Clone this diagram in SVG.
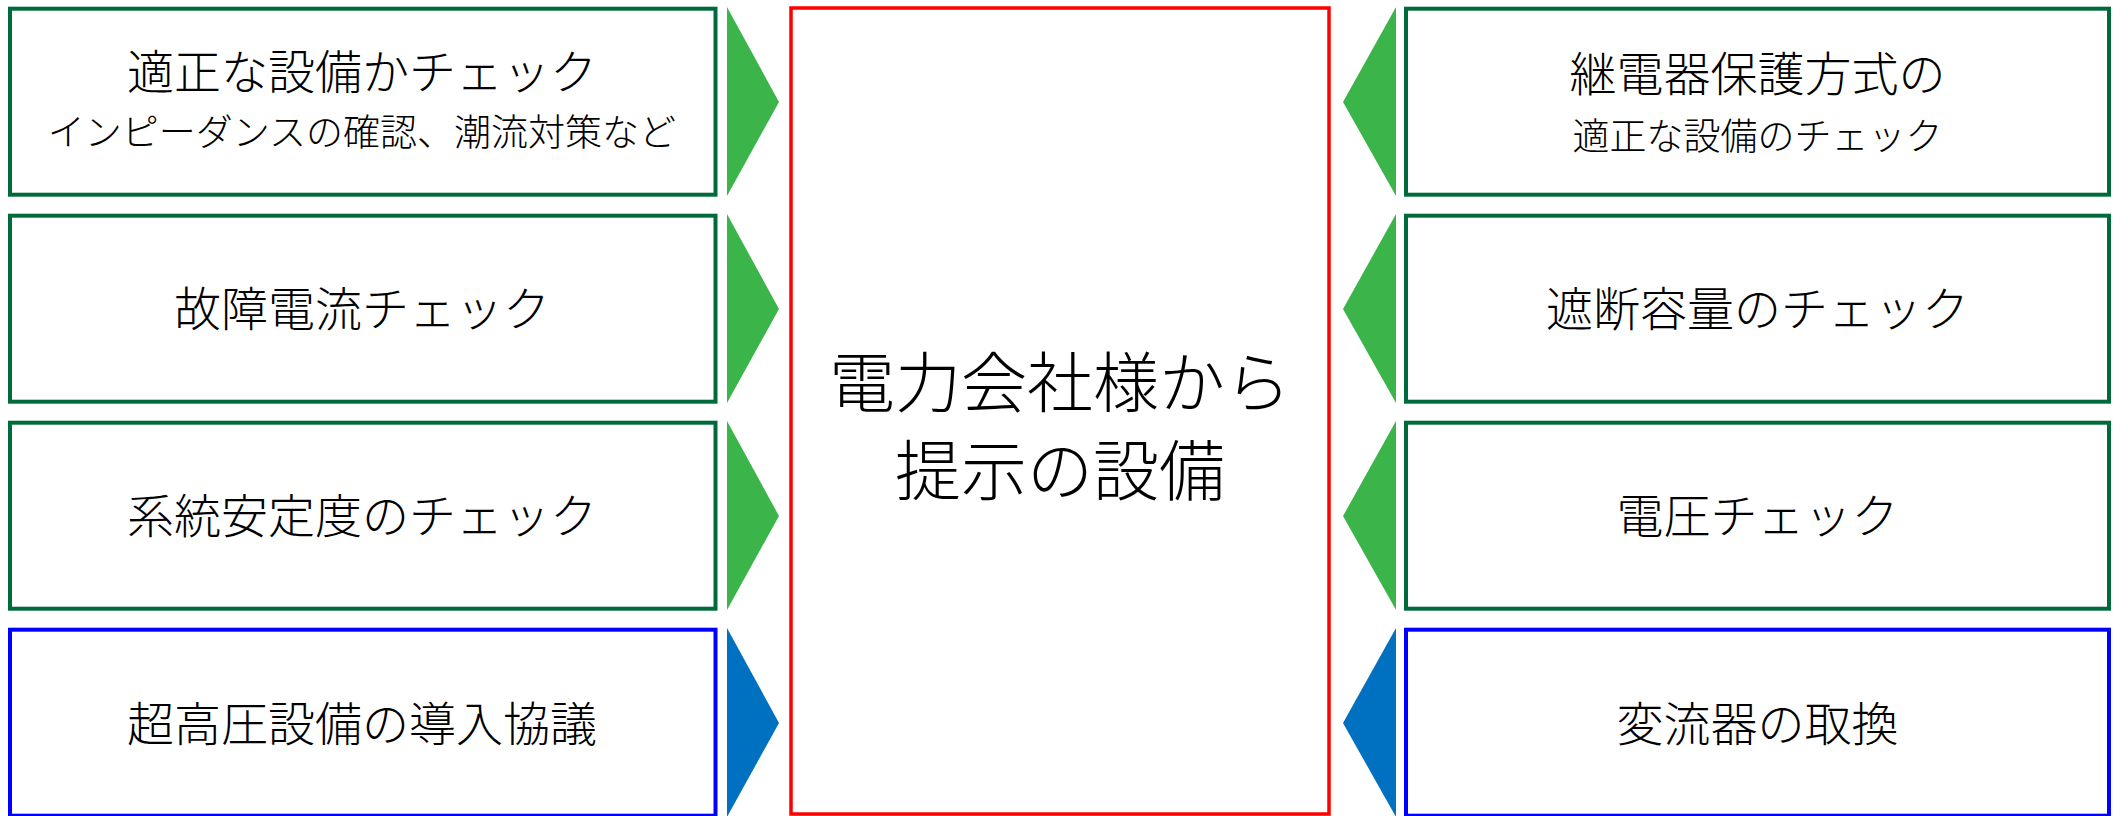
<svg xmlns="http://www.w3.org/2000/svg" width="2121" height="816" viewBox="0 0 2121 816">
<style>
.g{fill:#fff;stroke:#006b3a;stroke-width:4}
.b{fill:#fff;stroke:#0000ff;stroke-width:4}
.c{fill:#fff;stroke:#ff0000;stroke-width:3.5}
.ag{fill:#3bb54a}
.ab{fill:#0070c0}
text{font-family:"Noto Sans CJK JP","Noto Sans CJK SC",sans-serif;font-weight:300;fill:#000;text-anchor:middle}
.l{font-size:47px}
.s{font-size:37px}
.m{font-size:66px}
</style>
<rect width="2121" height="816" fill="#fff"/>
<g id="connectors">
<polygon class="ag" points="727,7 779,102 727,196"/>
<polygon class="ag" points="727,214 779,309 727,403"/>
<polygon class="ag" points="727,421 779,516 727,610"/>
<polygon class="ab" points="727,628 779,723 727,817"/>
<polygon class="ag" points="1396,7 1343,102 1396,196"/>
<polygon class="ag" points="1396,214 1343,309 1396,403"/>
<polygon class="ag" points="1396,421 1343,516 1396,610"/>
<polygon class="ab" points="1396,628 1343,723 1396,817"/>
</g>
<g id="center">
<rect class="c" x="791" y="8" width="538" height="806"/>
<text class="m" x="1060" y="407">電力会社様から</text>
<text class="m" x="1060" y="495">提示の設備</text>
</g>
<g id="l1">
<rect class="g" x="10" y="8.7" width="705.5" height="186"/>
<text class="l" x="362" y="89">適正な設備かチェック</text>
<text class="s" x="362" y="146">インピーダンスの確認、潮流対策など</text>
</g>
<g id="l2">
<rect class="g" x="10" y="215.7" width="705.5" height="186"/>
<text class="l" x="362" y="326">故障電流チェック</text>
</g>
<g id="l3">
<rect class="g" x="10" y="422.7" width="705.5" height="186"/>
<text class="l" x="362" y="533">系統安定度のチェック</text>
</g>
<g id="l4">
<rect class="b" x="10" y="629.7" width="705.5" height="186"/>
<text class="l" x="362" y="741">超高圧設備の導入協議</text>
</g>
<g id="r1">
<rect class="g" x="1406" y="8.7" width="703" height="186"/>
<text class="l" x="1757.5" y="91">継電器保護方式の</text>
<text class="s" x="1757.5" y="150">適正な設備のチェック</text>
</g>
<g id="r2">
<rect class="g" x="1406" y="215.7" width="703" height="186"/>
<text class="l" x="1757.5" y="326">遮断容量のチェック</text>
</g>
<g id="r3">
<rect class="g" x="1406" y="422.7" width="703" height="186"/>
<text class="l" x="1757.5" y="533">電圧チェック</text>
</g>
<g id="r4">
<rect class="b" x="1406" y="629.7" width="703" height="186"/>
<text class="l" x="1757.5" y="741">変流器の取換</text>
</g>
</svg>
